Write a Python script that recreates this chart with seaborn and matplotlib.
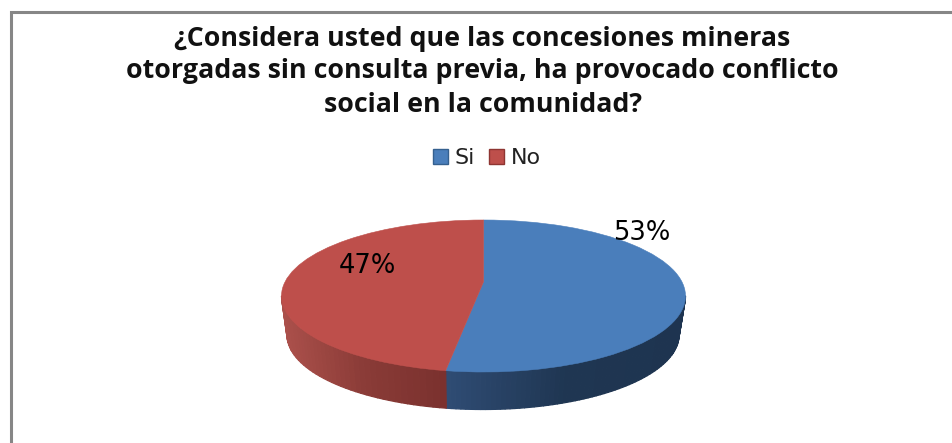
import numpy as np
import matplotlib
matplotlib.use("Agg")
import matplotlib.pyplot as plt
from matplotlib.collections import PolyCollection
from matplotlib.colors import LinearSegmentedColormap
import seaborn as sns

categories = ["Si", "No"]
shares = [53, 47]
top_colors = ["#4A7EBB", "#BE4F4B"]
swatch_edges = ["#35608F", "#8E3532"]
wall_colors = [("#1E3450", "#1F3652", "#2F4C74"), ("#7A312E", "#8A3B37", "#AB504B")]
title_lines = [
    "¿Considera usted que las concesiones mineras",
    "otorgadas sin consulta previa, ha provocado conflicto",
    "social en la comunidad?",
]

W, H = 952, 443
sns.set_theme(style="white")
plt.rcParams["font.family"] = ["DejaVu Sans"]

fig = plt.figure(figsize=(W / 100, H / 100), dpi=100, facecolor="white")

# Pixel-based layer for the frame, the text and the side wall of the disc
bg = fig.add_axes([0, 0, 1, 1], zorder=1)
bg.set_xlim(0, W)
bg.set_ylim(H, 0)
bg.axis("off")
bg.plot([10.5, 10.5, W], [H, 11.5, 11.5], color="#868686", lw=2.2, solid_joinstyle="miter")

# Ellipses of the top face and of the lower rim of the disc
cx, cy, rx, ry = 483.5, 296, 202, 76
bx, by, brx, bry = 483, 335, 196, 74.5
apex_shift = 0.186

split = np.radians(-90 + 360 * shares[0] / sum(shares))
spans = [(0.0, split), (split, np.pi)]
for (a, b), cols, bands in zip(spans, wall_colors, (70, 40)):
    t = np.linspace(a, b, bands + 1)
    top_x, top_y = cx + rx * np.cos(t), cy + ry * np.sin(t)
    low_x, low_y = bx + brx * np.cos(t), by + bry * np.sin(t)
    quads = [
        [(top_x[i], top_y[i]), (top_x[i + 1], top_y[i + 1]),
         (low_x[i + 1], low_y[i + 1]), (low_x[i], low_y[i])]
        for i in range(bands)
    ]
    cmap = LinearSegmentedColormap.from_list("wall", cols)
    lo, hi = -np.cos(a), -np.cos(b)
    shade = cmap((-np.cos(0.5 * (t[:-1] + t[1:])) - lo) / (hi - lo))
    bg.add_collection(PolyCollection(quads, facecolors=shade, edgecolors=shade,
                                     linewidths=0.9, antialiaseds=True))

# Top face: the pie, squeezed into the ellipse, with its apex raised for the tilt
ax = fig.add_axes([(cx - rx) / W, 1 - (cy + ry) / H, 2 * rx / W, 2 * ry / H], zorder=2)
wedges, _ = ax.pie(shares, colors=top_colors, startangle=90, counterclock=False,
                   radius=1, wedgeprops=dict(linewidth=0.4))
for w, c in zip(wedges, top_colors):
    w.set_edgecolor(c)
    v = w.get_path().vertices
    v[np.hypot(v[:, 0], v[:, 1]) < 1e-6] = (0, apex_shift)
ax.set_aspect("auto")
ax.set_xlim(-1, 1)
ax.set_ylim(-1, 1)

top = fig.add_axes([0, 0, 1, 1], zorder=3)
top.set_xlim(0, W)
top.set_ylim(H, 0)
top.axis("off")

for y, line in zip([38.5, 70.5, 104.5], title_lines):
    top.text(482.5, y, line, ha="center", va="center", fontsize=19.3,
             fontweight="bold", family="Open Sans", color="#111111")

top.text(642, 233, f"{shares[0]}%", ha="center", va="center", fontsize=18.5, color="black")
top.text(367, 266, f"{shares[1]}%", ha="center", va="center", fontsize=18.5, color="black")

legend = fig.legend(wedges, categories, ncol=2, loc="center",
                    bbox_to_anchor=(487 / W, 1 - 158 / H), frameon=False, fontsize=16,
                    handlelength=0.68, handleheight=0.68, handletextpad=0.3,
                    columnspacing=0.65, labelcolor="#222222")
for handle, edge in zip(legend.legend_handles, swatch_edges):
    handle.set_edgecolor(edge)
    handle.set_linewidth(1.0)

fig.savefig("out.png", dpi=100, facecolor="white")
